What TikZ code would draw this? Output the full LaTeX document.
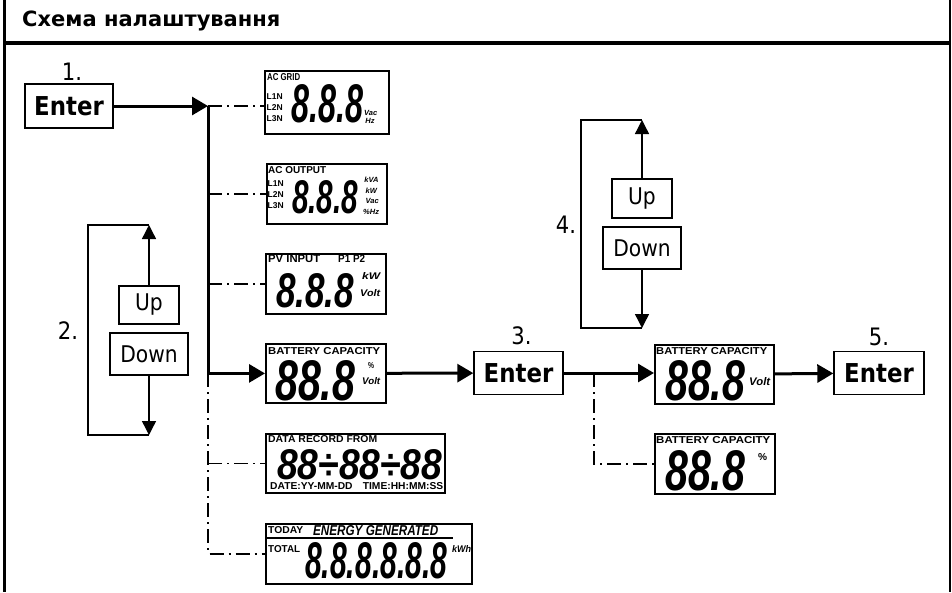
\documentclass[tikz,border=0pt]{standalone}
\usepackage{graphicx}
\usepackage{fontspec}
\setmainfont{DejaVu Sans}
\newfontfamily\keyfont[FakeStretch=0.88]{DejaVu Sans}
\newfontfamily\lcdfont{Liberation Sans}
\usetikzlibrary{arrows.meta, positioning}

\newcommand{\lcdlabel}[3]{\resizebox{#1pt}{#2pt}{\lcdfont\bfseries #3}}
\newcommand{\lcdital}[3]{\resizebox{#1pt}{#2pt}{\lcdfont\bfseries\itshape #3}}
\newcommand{\segnum}[3]{\resizebox{#1pt}{#2pt}{\lcdfont\bfseries\itshape #3}}

\begin{document}
\begin{tikzpicture}[x=1pt, y=-1pt,
    keybox/.style={rectangle, draw, line width=1.4pt, minimum width=88pt, minimum height=44pt,
                   inner sep=0pt, font=\keyfont\bfseries\fontsize{26}{26}\selectfont},
    btnbox/.style={rectangle, draw, line width=1.1pt, minimum height=39pt, inner sep=0pt,
                   font=\keyfont\fontsize{23}{23}\selectfont},
    lcd/.style={rectangle, draw, line width=1.8pt, anchor=north west, inner sep=0pt},
    lcdtext/.style={anchor=north west, inner sep=0pt},
    phases/.style={lcdtext, align=left, font=\lcdfont\bfseries\fontsize{8.5}{11}\selectfont},
    units/.style={lcdtext, align=left, font=\lcdfont\bfseries\itshape\fontsize{7.5}{10.5}\selectfont},
    steplabel/.style={inner sep=0pt, font=\keyfont\fontsize{24}{24}\selectfont},
    flow/.style={-{Triangle[length=16pt, width=18pt]}, line width=3pt},
    branch/.style={line width=1.2pt, dash pattern=on 14pt off 5pt on 2pt off 5pt},
    updown/.style={-{Triangle[length=14pt, width=14pt]}, line width=1.4pt},
    cycleline/.style={line width=1.3pt}
  ]
    \useasboundingbox (0,0) rectangle (952,592);

    \draw[line width=3.5pt] (4.5,0) -- (4.5,592);
    \draw[line width=2.5pt] (950,0) -- (950,592);
    \draw[line width=3.3pt] (4.5,43) -- (950,43);
    \node[anchor=base west, inner sep=0pt, font=\bfseries\fontsize{21}{21}\selectfont] (title) at (22,26) {Схема налаштування};

    \node[keybox] (enter1) at (69,106) {Enter};
    \node[keybox, minimum width=89pt, minimum height=43pt] (enter3) at (518.5,373) {Enter};
    \node[keybox, minimum width=90pt, minimum height=43pt] (enter5) at (879,373) {Enter};
    \node[steplabel, above=3pt of enter1, xshift=3pt] (n1) {1.};
    \node[steplabel, above=6pt of enter3, xshift=3pt] (n3) {3.};
    \node[steplabel, above=5pt of enter5] (n5) {5.};

    \node[btnbox, minimum width=60pt, minimum height=38pt] (up2) at (149,305) {Up};
    \node[btnbox, minimum width=78pt, minimum height=42pt] (down2) at (149,354) {Down};
    \node[steplabel] (n2) at (68,331) {2.};
    \node[btnbox, minimum width=60pt] (up4) at (642,198.5) {Up};
    \node[btnbox, minimum width=78pt, minimum height=42pt] (down4) at (642,248) {Down};
    \node[steplabel] (n4) at (566,225) {4.};

    \node[lcd, minimum width=124pt, minimum height=63pt] (grid) at (264,70) {};
    \node[lcdtext] (grid-t) at (267,73) {\lcdlabel{33}{7}{AC GRID}};
    \node[phases] (grid-l) at (266.5,93) {L1N\\L2N\\L3N};
    \node[lcdtext] (grid-d) at (291,84) {\segnum{72}{38}{8.8.8}};
    \node[units, font=\lcdfont\bfseries\itshape\fontsize{7.5}{8}\selectfont] (grid-u) at (364,110) {Vac\\\,Hz};

    \node[lcd, minimum width=120pt, minimum height=60pt] (output) at (266,163) {};
    \node[lcdtext] (out-t) at (268,166) {\lcdlabel{58}{7}{AC OUTPUT}};
    \node[phases] (out-l) at (267.5,180) {L1N\\L2N\\L3N};
    \node[lcdtext] (out-d) at (292,180) {\segnum{66}{33}{8.8.8}};
    \node[units] (out-u) at (363,177) {\,kVA\\\,\,kW\\\,\,Vac\\\%Hz};

    \node[lcd, minimum width=120pt, minimum height=60pt] (pv) at (265,253) {};
    \node[lcdtext] (pv-t) at (268,255) {\lcdlabel{52}{7.5}{PV INPUT}};
    \node[lcdtext] (pv-p) at (338,255) {\lcdlabel{27}{7.5}{P1 P2}};
    \node[lcdtext] (pv-d) at (276,273) {\segnum{78}{34}{8.8.8}};
    \node[lcdtext] (pv-u1) at (362,272) {\lcdital{18}{7}{kW}};
    \node[lcdtext] (pv-u2) at (360,289) {\lcdital{20}{7}{Volt}};

    \node[lcd, minimum width=120pt, minimum height=59pt] (batt) at (265,343) {};
    \node[lcdtext] (batt-t) at (268,347) {\lcdlabel{112}{7}{BATTERY CAPACITY}};
    \node[lcdtext] (batt-d) at (275,360) {\segnum{80}{40}{88.8}};
    \node[lcdtext] (batt-u1) at (368,362) {\lcdlabel{6}{6}{\%}};
    \node[lcdtext] (batt-u2) at (362,377) {\lcdital{18}{7}{Volt}};

    \node[lcd, minimum width=179pt, minimum height=59pt] (rec) at (265,433) {};
    \node[lcdtext] (rec-t) at (268,435) {\lcdlabel{109}{7}{DATA RECORD FROM}};
    \node[lcdtext] (rec-d) at (277,449) {\segnum{165}{30}{88÷88÷88}};
    \node[lcdtext] (rec-b) at (270,482) {\lcdlabel{173}{7}{DATE:YY-MM-DD\quad TIME:HH:MM:SS}};

    \node[lcd, minimum width=206pt, minimum height=60pt] (energy) at (265,523) {};
    \node[lcdtext] (en-t1) at (268,526) {\lcdlabel{35}{7}{TODAY}};
    \node[lcdtext] (en-t2) at (313,525) {\lcdital{125}{10}{ENERGY GENERATED}};
    \node[lcdtext] (en-t3) at (268,545) {\lcdlabel{32}{7}{TOTAL}};
    \node[lcdtext] (en-d) at (305,542) {\segnum{142}{36}{8.8.8.8.8.8}};
    \node[lcdtext] (en-u) at (452,545) {\lcdital{19}{7}{kWh}};
    \draw[line width=1.3pt] (energy.north west) ++(0,15) -- ++(188,0);

    \node[lcd, minimum width=119pt, minimum height=59pt] (bvolt) at (654,344) {};
    \node[lcdtext] (bv-t) at (656,347) {\lcdlabel{111}{7}{BATTERY CAPACITY}};
    \node[lcdtext] (bv-d) at (665,360) {\segnum{80}{40}{88.8}};
    \node[lcdtext] (bv-u) at (749,377) {\lcdital{21}{8}{Volt}};

    \node[lcd, minimum width=120pt, minimum height=60pt] (bpct) at (654,433) {};
    \node[lcdtext] (bp-t) at (656,436) {\lcdlabel{114}{7}{BATTERY CAPACITY}};
    \node[lcdtext] (bp-d) at (665,450) {\segnum{80}{40}{88.8}};
    \node[lcdtext] (bp-u) at (758,453) {\lcdlabel{9}{7}{\%}};

    \coordinate (jct-a) at (208,106);
    \coordinate (jct-b) at (594,373);
    \coordinate (u2-top) at (149,225);
    \coordinate (u2-bot) at (149,435);
    \coordinate (u4-top) at (642,120);
    \coordinate (u4-bot) at (642,328);

    \draw[flow] (enter1) -- (jct-a);
    \draw[flow] (jct-a) |- (batt.west);
    \draw[branch] (jct-a) -- (jct-a -| grid.west);
    \draw[branch] (output.west -| jct-a) -- (output.west);
    \draw[branch] (pv.west -| jct-a) -- (pv.west);
    \draw[branch] (batt.west -| jct-a) |- (energy.west);
    \draw[branch] (rec.west -| jct-a) -- (rec.west);
    \draw[flow] (batt) -- (enter3);
    \draw[flow] (enter3) -- (enter3 -| bvolt.west);
    \draw[branch] (jct-b) |- (bpct.west);
    \draw[flow] (bvolt) -- (enter5);

    \draw[updown] (up2) -- (u2-top);
    \draw[updown] (down2) -- (u2-bot);
    \draw[cycleline] (u2-top) -- ++(-61,0) |- (u2-bot);
    \draw[updown] (up4) -- (u4-top);
    \draw[updown] (down4) -- (u4-bot);
    \draw[cycleline] (u4-top) -- ++(-61,0) |- (u4-bot);
  \end{tikzpicture}
\end{document}
